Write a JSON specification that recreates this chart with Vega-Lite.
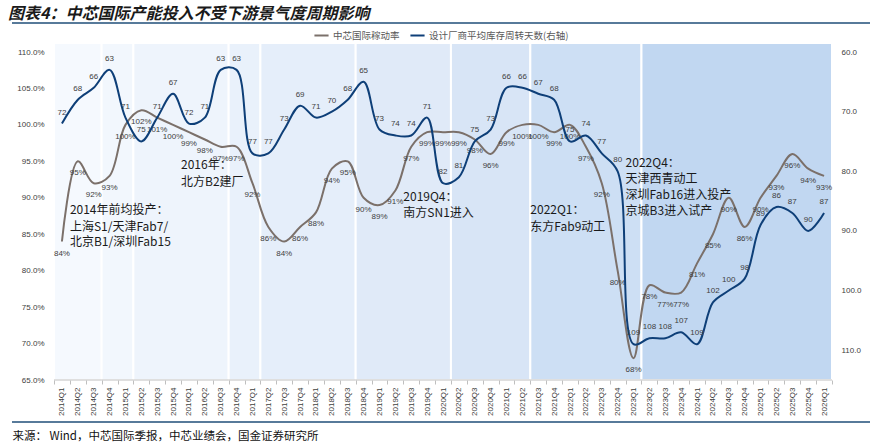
{
  "$schema": "https://vega.github.io/schema/vega-lite/v6.json",
  "width": 858,
  "height": 328,
  "autosize": {"type": "none"},
  "padding": {"left": 12, "top": 52, "right": 3, "bottom": 65},
  "background": "white",
  "title": {
    "text": "图表4：中芯国际产能投入不受下游景气度周期影响",
    "anchor": "start",
    "frame": "bounds",
    "font": "Noto Sans CJK SC",
    "fontSize": 16,
    "fontWeight": "bold",
    "fontStyle": "italic",
    "color": "#1a1a1a",
    "offset": 2,
    "dy": 2
  },
  "config": {"view": {"stroke": null}, "font": "Liberation Sans"},
  "datasets": {
    "main": [
      {"q": "2014Q1", "u": 0.84, "d": 72},
      {"q": "2014Q2", "u": 0.95, "d": 68},
      {"q": "2014Q3", "u": 0.92, "d": 66},
      {"q": "2014Q4", "u": 0.93, "d": 63},
      {"q": "2015Q1", "u": 1.00, "d": 71},
      {"q": "2015Q2", "u": 1.02, "d": 75},
      {"q": "2015Q3", "u": 1.01, "d": 71},
      {"q": "2015Q4", "u": 1.00, "d": 67},
      {"q": "2016Q1", "u": 0.99, "d": 72},
      {"q": "2016Q2", "u": 0.98, "d": 71},
      {"q": "2016Q3", "u": 0.97, "d": 63},
      {"q": "2016Q4", "u": 0.97, "d": 63},
      {"q": "2017Q1", "u": 0.92, "d": 77},
      {"q": "2017Q2", "u": 0.86, "d": 77},
      {"q": "2017Q3", "u": 0.84, "d": 73},
      {"q": "2017Q4", "u": 0.86, "d": 69},
      {"q": "2018Q1", "u": 0.88, "d": 71},
      {"q": "2018Q2", "u": 0.94, "d": 70},
      {"q": "2018Q3", "u": 0.95, "d": 68},
      {"q": "2018Q4", "u": 0.90, "d": 65},
      {"q": "2019Q1", "u": 0.89, "d": 73},
      {"q": "2019Q2", "u": 0.91, "d": 74},
      {"q": "2019Q3", "u": 0.97, "d": 74},
      {"q": "2019Q4", "u": 0.99, "d": 71},
      {"q": "2020Q1", "u": 0.99, "d": 82},
      {"q": "2020Q2", "u": 0.99, "d": 81},
      {"q": "2020Q3", "u": 0.98, "d": 75},
      {"q": "2020Q4", "u": 0.96, "d": 73},
      {"q": "2021Q1", "u": 0.99, "d": 66},
      {"q": "2021Q2", "u": 1.00, "d": 66},
      {"q": "2021Q3", "u": 1.00, "d": 67},
      {"q": "2021Q4", "u": 0.99, "d": 68},
      {"q": "2022Q1", "u": 1.00, "d": 75},
      {"q": "2022Q2", "u": 0.97, "d": 74},
      {"q": "2022Q3", "u": 0.92, "d": 77},
      {"q": "2022Q4", "u": 0.80, "d": 80},
      {"q": "2023Q1", "u": 0.68, "d": 109},
      {"q": "2023Q2", "u": 0.78, "d": 108},
      {"q": "2023Q3", "u": 0.77, "d": 108},
      {"q": "2023Q4", "u": 0.77, "d": 107},
      {"q": "2024Q1", "u": 0.81, "d": 109},
      {"q": "2024Q2", "u": 0.85, "d": 102},
      {"q": "2024Q3", "u": 0.90, "d": 100},
      {"q": "2024Q4", "u": 0.86, "d": 98},
      {"q": "2025Q1", "u": 0.90, "d": 89},
      {"q": "2025Q2", "u": 0.93, "d": 86},
      {"q": "2025Q3", "u": 0.96, "d": 87},
      {"q": "2025Q4", "u": 0.94, "d": 90},
      {"q": "2026Q1", "u": 0.93, "d": 87}
    ],
    "bands": [
      {"b": 1, "q": "2014Q1", "e": "2014Q3"},
      {"b": 2, "q": "2014Q4", "e": "2015Q1"},
      {"b": 3, "q": "2015Q2", "e": "2016Q3"},
      {"b": 4, "q": "2016Q4", "e": "2017Q1"},
      {"b": 5, "q": "2017Q2", "e": "2018Q3"},
      {"b": 6, "q": "2018Q4", "e": "2020Q1"},
      {"b": 7, "q": "2020Q2", "e": "2021Q2"},
      {"b": 8, "q": "2021Q3", "e": "2023Q1"},
      {"b": 9, "q": "2023Q2", "e": "2026Q1"}
    ],
    "notes": [
      {"q": "2014Q2", "v": 0.883, "t": "2014年前均投产："},
      {"q": "2014Q2", "v": 0.860, "t": "上海S1/天津Fab7/"},
      {"q": "2014Q2", "v": 0.839, "t": "北京B1/深圳Fab15"},
      {"q": "2016Q1", "v": 0.945, "t": "2016年："},
      {"q": "2016Q1", "v": 0.922, "t": "北方B2建厂"},
      {"q": "2019Q3", "v": 0.901, "t": "2019Q4："},
      {"q": "2019Q3", "v": 0.879, "t": "南方SN1进入"},
      {"q": "2021Q3", "v": 0.883, "t": "2022Q1："},
      {"q": "2021Q3", "v": 0.860, "t": "东方Fab9动工"},
      {"q": "2023Q1", "v": 0.948, "t": "2022Q4："},
      {"q": "2023Q1", "v": 0.926, "t": "天津西青动工"},
      {"q": "2023Q1", "v": 0.904, "t": "深圳Fab16进入投产"},
      {"q": "2023Q1", "v": 0.882, "t": "京城B3进入试产"}
    ]
  },
  "layer": [
    {
      "layer": [
        {
          "data": {"name": "bands"},
          "mark": {"type": "rect", "stroke": "white", "strokeWidth": 2},
          "encoding": {
            "x": {"field": "q", "type": "ordinal", "bandPosition": 0},
            "x2": {"field": "e", "bandPosition": 1},
            "y": {"datum": 1.1123, "type": "quantitative", "scale": {"domain": [0.65, 1.1], "nice": false, "zero": false}, "axis": null},
            "y2": {"datum": 0.65},
            "fill": {
              "field": "b",
              "type": "ordinal",
              "scale": {"range": ["#f5f9fe", "#f2f7fd", "#eef4fc", "#e9f1fb", "#e5eefa", "#e0eaf8", "#d8e5f6", "#cddff4", "#c1d7f1"]},
              "legend": null
            }
          }
        },
        {
          "data": {"name": "bands"},
          "mark": {"type": "rule", "color": "#bfbfbf", "strokeWidth": 1},
          "encoding": {
            "x": {"field": "q", "type": "ordinal", "bandPosition": 0},
            "x2": {"field": "e", "bandPosition": 1},
            "y": {"datum": 0.65, "type": "quantitative", "axis": null}
          }
        },
        {
          "data": {"values": [{}]},
          "mark": {"type": "rule", "color": "#1f4e79", "strokeWidth": 1.5},
          "encoding": {"y": {"datum": 1.1398, "type": "quantitative", "axis": null}}
        },
        {
          "data": {"values": [{}]},
          "mark": {"type": "rule", "color": "#1f4e79", "strokeWidth": 1.5},
          "encoding": {"y": {"datum": 0.5924, "type": "quantitative", "axis": null}}
        }
      ]
    },
    {
      "layer": [
        {
          "data": {"name": "main"},
          "mark": {"type": "line", "interpolate": "catmull-rom", "strokeWidth": 2},
          "encoding": {
            "x": {
              "field": "q",
              "type": "ordinal",
              "title": "来源：  Wind，中芯国际季报，中芯业绩会，国金证券研究所",
              "scale": {"type": "band", "paddingInner": 0, "paddingOuter": 0, "range": [42, 820]},
              "axis": {
                "title": "来源：  Wind，中芯国际季报，中芯业绩会，国金证券研究所",
                "labelAngle": 270,
                "labelFontSize": 8,
                "labelColor": "#404040",
                "labelPadding": 3,
                "tickBand": "extent",
                "tickSize": 4,
                "tickColor": "#bfbfbf",
                "domain": false,
                "grid": false,
                "zindex": 1,
                "titleAnchor": "start",
                "titleAlign": "left",
                "titleX": 0,
                "titleY": 56,
                "titleBaseline": "middle",
                "titleFont": "Noto Sans CJK SC",
                "titleFontSize": 11.5,
                "titleFontWeight": "normal",
                "titleColor": "#111111"
              }
            },
            "y": {
              "field": "u",
              "type": "quantitative",
              "scale": {"domain": [0.65, 1.1], "nice": false, "zero": false},
              "axis": {
                "title": null,
                "values": [0.65, 0.7, 0.75, 0.8, 0.85, 0.9, 0.95, 1.0, 1.05, 1.1],
                "tickCount": 12,
                "format": ".1%",
                "offset": -33,
                "domain": false,
                "ticks": false,
                "grid": false,
                "labelOverlap": false,
                "zindex": 1,
                "labelPadding": 1,
                "labelFontSize": 8,
                "labelColor": "#404040"
              }
            },
            "color": {
              "datum": "中芯国际稼动率",
              "scale": {"domain": ["中芯国际稼动率", "设计厂商平均库存周转天数(右轴)"], "range": ["#7b706a", "#0e3f78"]},
              "legend": {
                "orient": "none",
                "legendX": 301,
                "legendY": -25,
                "direction": "horizontal",
                "title": null,
                "labelFont": "Noto Sans CJK SC",
                "labelFontSize": 9.5,
                "labelColor": "#595959",
                "symbolType": "stroke",
                "symbolStrokeWidth": 2,
                "symbolSize": 200,
                "columnPadding": 6,
                "labelOffset": 3
              }
            }
          }
        },
        {
          "data": {"name": "main"},
          "mark": {"type": "text", "dy": 12, "fontSize": 8, "fill": "#404040"},
          "encoding": {
            "x": {"field": "q", "type": "ordinal"},
            "y": {"field": "u", "type": "quantitative"},
            "text": {"field": "u", "type": "quantitative", "format": ".0%"}
          }
        },
        {
          "data": {"name": "notes"},
          "mark": {"type": "text", "align": "left", "baseline": "middle", "font": "Noto Sans CJK SC", "fontSize": 12, "fill": "#1a1a1a"},
          "encoding": {
            "x": {"field": "q", "type": "ordinal", "bandPosition": 0},
            "y": {"field": "v", "type": "quantitative"},
            "text": {"field": "t", "type": "nominal"}
          }
        }
      ]
    },
    {
      "data": {"name": "main"},
      "layer": [
        {
          "mark": {"type": "line", "interpolate": "catmull-rom", "strokeWidth": 2},
          "encoding": {
            "x": {"field": "q", "type": "ordinal"},
            "y": {
              "field": "d",
              "type": "quantitative",
              "scale": {"domain": [60, 115], "reverse": true, "nice": false, "zero": false},
              "axis": {
                "orient": "right",
                "title": null,
                "values": [60, 70, 80, 90, 100, 110],
                "tickCount": 8,
                "format": ".1f",
                "offset": -31,
                "domain": false,
                "ticks": false,
                "grid": false,
                "labelOverlap": false,
                "zindex": 1,
                "labelPadding": 2,
                "labelFontSize": 8,
                "labelColor": "#404040"
              }
            },
            "color": {"datum": "设计厂商平均库存周转天数(右轴)"}
          }
        },
        {
          "mark": {"type": "text", "dy": -11, "fontSize": 8, "fill": "#404040"},
          "encoding": {
            "x": {"field": "q", "type": "ordinal"},
            "y": {"field": "d", "type": "quantitative"},
            "text": {"field": "d", "type": "quantitative", "format": "d"}
          }
        }
      ]
    }
  ],
  "resolve": {"scale": {"y": "independent"}}
}
